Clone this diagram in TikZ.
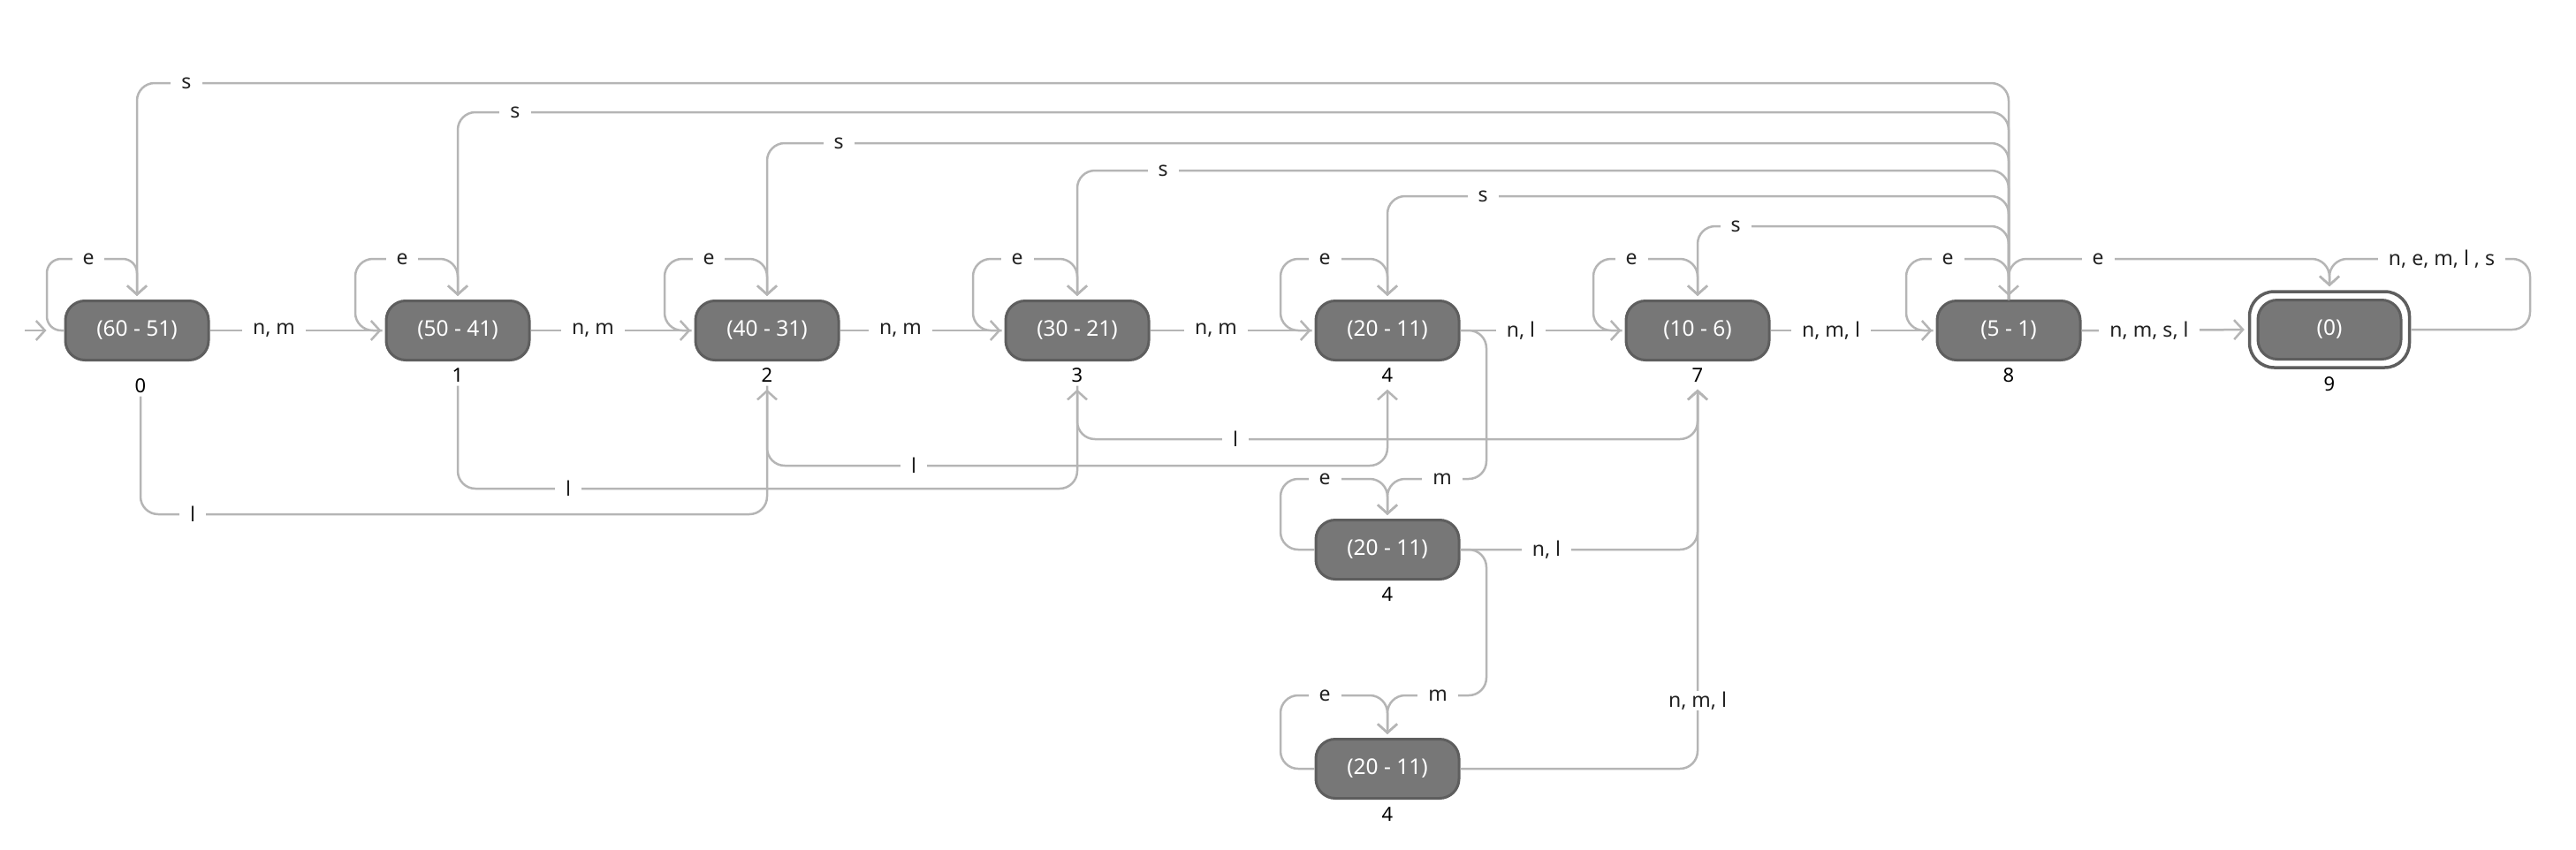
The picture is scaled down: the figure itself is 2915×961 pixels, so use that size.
\documentclass[tikz,border=0pt]{standalone}
\usepackage{fontspec}
\setmainfont{Noto Sans}
\usetikzlibrary{arrows.meta,fit}
\definecolor{nodefill}{HTML}{777777}
\definecolor{nodeborder}{HTML}{5E5E5E}
\definecolor{edgecol}{HTML}{B5B5B5}
\definecolor{labcol}{HTML}{222222}
\begin{document}
\begin{tikzpicture}[x=1pt,y=-1pt,
  st/.style={draw=nodeborder, fill=nodefill, line width=3pt, rounded corners=22pt,
    minimum width=162pt, minimum height=67pt, inner sep=0pt, text=white,
    font=\fontsize{24.5}{28}\selectfont},
  num/.style={font=\fontsize{22}{26}\selectfont, text=black, inner sep=4pt,
    text height=15pt, text depth=0pt},
  conn/.style={draw=edgecol, line width=2.5pt, rounded corners=20pt,
    -{Straight Barb[length=10pt,width=22pt]}, shorten >=4pt},
  lab/.style={fill=white, sharp corners, font=\fontsize{23}{27}\selectfont,
    text=labcol, inner xsep=12pt, inner ysep=1pt}
]
\useasboundingbox (0,0) rectangle (2915,961);

% states
\node[st] (n0) at (155,374) {(60 - 51)};
\node[st] (n1) at (518,374) {(50 - 41)};
\node[st] (n2) at (868,374) {(40 - 31)};
\node[st] (n3) at (1219,374) {(30 - 21)};
\node[st] (n4) at (1570,374) {(20 - 11)};
\node[st] (n7) at (1921,374) {(10 - 6)};
\node[st] (n8) at (2273,374) {(5 - 1)};
\node[st] (n9) at (2636,373) {(0)};
\node[fit=(n9), draw=nodeborder, line width=3.5pt, rounded corners=28pt, inner sep=8pt] (n9o) {};
\node[st] (n4b) at (1570,622) {(20 - 11)};
\node[st] (n4c) at (1570,870) {(20 - 11)};

% numbers
\node[num] (l0) at (159,437) {0};
\node[num] (l1) at (518,425) {1};
\node[num] (l2) at (868,425) {2};
\node[num] (l3) at (1219,425) {3};
\node[num] (l4) at (1570,425) {4};
\node[num] (l7) at (1921,425) {7};
\node[num] (l8) at (2273,425) {8};
\node[num] (l9) at (2636,435) {9};
\node[num] (l4b) at (1570,673) {4};
\node[num] (l4c) at (1570,922) {4};

% initial arrow
\coordinate (init) at (28,374);
\draw[conn, shorten >=0pt] (init) -- ([xshift=-20pt]n0.west);

% self loops e
\draw[conn, rounded corners=16pt] (n0.west) -| (53,293) -- (100,293) node[lab]{e} -| (n0.north);
\draw[conn] ([xshift=-3pt]n1.west) -| (402,293) -- (455,293) node[lab]{e} -| (n1.north);
\draw[conn] ([xshift=-3pt]n2.west) -| (752,293) -- (802,293) node[lab]{e} -| (n2.north);
\draw[conn] ([xshift=-3pt]n3.west) -| (1101,293) -- (1151,293) node[lab]{e} -| (n3.north);
\draw[conn] ([xshift=-3pt]n4.west) -| (1449,293) -- (1499,293) node[lab]{e} -| (n4.north);
\draw[conn] ([xshift=-3pt]n7.west) -| (1803,293) -- (1846,293) node[lab]{e} -| (n7.north);
\draw[conn] ([xshift=-3pt]n8.west) -| (2157,293) -- (2204,293) node[lab]{e} -| (n8.north);
\draw[conn] (n4b.west) -| (1449,542) -- (1499,542) node[lab]{e} -| (n4b.north);
\draw[conn] (n4c.west) -| (1449,787) -- (1499,787) node[lab]{e} -| (n4c.north);

% s edges from 8
\draw[conn] (n8.north) |- (211,94) node[lab]{s} -| (n0.north);
\draw[conn] (n8.north) |- (583,127) node[lab]{s} -| (n1.north);
\draw[conn] (n8.north) |- (949,162) node[lab]{s} -| (n2.north);
\draw[conn] (n8.north) |- (1316,193) node[lab]{s} -| (n3.north);
\draw[conn] (n8.north) |- (1678,222) node[lab]{s} -| (n4.north);
\draw[conn] (n8.north) |- (1964,256) node[lab]{s} -| (n7.north);

% e from 8 to 9 and loop on 9
\draw[conn] (n8.north) |- (2374,293) node[lab]{e} -| (n9o.north);
\draw[conn] (n9o.east) -| (2863,293) -- (2763,293) node[lab]{n, e, m, l , s} -| (n9o.north);

% main chain
\draw[conn] (n0.east) -- (310,374) node[lab]{n, m} -- (n1.west);
\draw[conn] (n1.east) -- (671,374) node[lab]{n, m} -- (n2.west);
\draw[conn] (n2.east) -- (1019,374) node[lab]{n, m} -- (n3.west);
\draw[conn] (n3.east) -- (1376,374) node[lab]{n, m} -- (n4.west);
\draw[conn] (n4.east) -- (1721,374) node[lab]{n, l} -- (n7.west);
\draw[conn] (n7.east) -- (2072,374) node[lab]{n, m, l} -- (n8.west);
\draw[conn] (n8.east) -- (2432,374) node[lab]{n, m, s, l} -- (n9o.west);

% l edges
\draw[conn] (l0.south) |- (218,582) node[lab]{l} -| (l2.south);
\draw[conn] (l1.south) |- (643,553) node[lab]{l} -| (l3.south);
\draw[conn] (l2.south) |- (1034,527) node[lab]{l} -| (l4.south);
\draw[conn] (l3.south) |- (1398,497) node[lab]{l} -| (l7.south);

% m edges and lower states
\draw[conn] (n4.east) -- (1682,374) |- (1632,542) node[lab]{m} -| (n4b.north);
\draw[conn] (n4b.east) -- (1682,622) |- (1627,787) node[lab]{m} -| (n4c.north);
\draw[conn] (n4b.east) -- (1750,622) node[lab]{n, l} -| (l7.south);
\draw[conn] (n4c.east) -| (1921,793) node[lab]{n, m, l} -- (l7.south);
\end{tikzpicture}
\end{document}
